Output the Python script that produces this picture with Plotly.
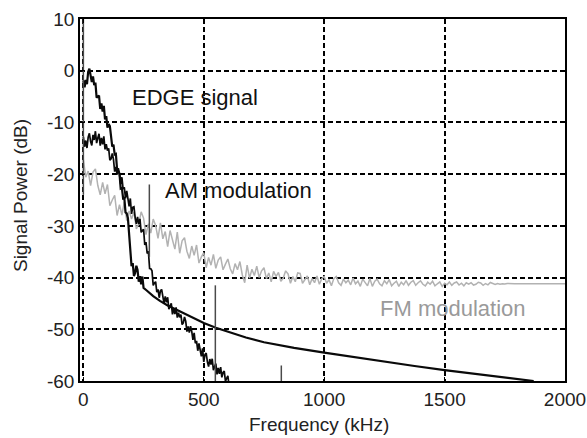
import plotly.graph_objects as go

# ---- FM modulation spectrum (10 kHz bins up to 1800 kHz, then flat floor) ----
fm_freq = list(range(0, 1810, 10)) + [1900, 2000]
fm_db = [
    -17.2, -20.6, -19.4, -22.2, -19.6, -19.0, -22.2, -24.0, -21.6, -23.8,
    -22.0, -26.1, -25.0, -24.1, -28.0, -25.9, -27.9, -25.4, -29.0, -27.1,
    -28.7, -27.3, -30.6, -29.6, -27.3, -28.5, -31.7, -29.6, -31.4, -28.7,
    -29.9, -32.4, -29.4, -32.5, -31.1, -34.0, -30.9, -32.6, -34.5, -31.2,
    -35.3, -32.9, -32.3, -34.9, -36.3, -33.9, -35.7, -33.7, -37.2, -36.0,
    -35.2, -38.1, -36.1, -37.6, -35.5, -38.2, -36.6, -36.0, -38.5, -37.4,
    -36.4, -38.3, -39.3, -37.3, -38.5, -36.9, -39.5, -41.0, -37.6, -40.1,
    -38.4, -39.6, -37.8, -40.0, -38.7, -38.1, -40.2, -39.1, -40.8, -38.8,
    -39.8, -39.0, -40.7, -40.1, -38.7, -39.3, -41.1, -39.8, -40.8, -39.1,
    -39.2, -41.1, -40.3, -39.7, -41.4, -40.2, -41.0, -39.7, -41.3, -40.2,
    -39.8, -41.1, -40.4, -41.6, -40.2, -39.8, -41.0, -41.5, -40.3, -41.0,
    -40.5, -41.4, -40.1, -41.2, -40.7, -41.7, -40.3, -40.9, -41.6, -40.2,
    -41.7, -40.7, -40.3, -41.2, -41.6, -40.6, -41.2, -40.4, -41.6, -41.1,
    -40.7, -41.7, -40.9, -41.4, -40.6, -41.5, -40.9, -40.6, -41.5, -41.0,
    -40.65, -41.3, -41.6, -40.9, -41.3, -40.7, -41.6, -41.2, -40.85, -41.7,
    -41.1, -41.4, -40.85, -41.5, -41.05, -40.85, -41.45, -41.1, -41.6, -41.0,
    -41.25, -41.0, -41.45, -41.3, -40.9, -41.05, -41.5, -41.15, -41.4, -40.95,
    -41.1, -41.35, -41.15, -41.3, -41.2, -41.25, -41.15, -41.2, -41.25, -41.2,
    -41.2,
    -41.2, -41.2,
]

# ---- EDGE signal: measured part (5 kHz bins) followed by the smooth roll-off ----
edge_noisy_freq = list(range(0, 255, 5))
edge_noisy_db = [
    -1.9, -3.2, -1.8, -2.6, -0.2, 0.4, -0.9, -2.2, -1.1, -2.8,
    -2.3, -5.2, -5.0, -4.8, -7.4, -6.3, -7.9, -6.8, -9.4, -8.8,
    -11.0, -10.3, -10.7, -13.0, -14.7, -14.3, -16.2, -16.1, -19.1, -19.4,
    -19.9, -22.8, -22.7, -24.7, -24.6, -27.4, -27.6, -28.5, -31.6, -34.3,
    -37.8, -37.2, -39.7, -39.1, -37.7, -38.55, -40.8, -39.75, -41.3, -39.8, -42.0,
]
edge_tail_freq = [263, 290, 318, 350, 400, 450, 500, 550, 600, 675, 750, 875,
                  1000, 1125, 1250, 1375, 1500, 1625, 1750, 1870]
edge_tail_db = [-42.5, -43.6, -44.5, -45.4, -46.5, -47.7, -48.8, -49.7, -50.5,
                -51.6, -52.5, -53.6, -54.5, -55.4, -56.3, -57.1, -57.9, -58.6,
                -59.3, -60.0]

# ---- AM modulation spectrum (5 kHz bins) ----
am_freq = list(range(0, 665, 5))
am_db = [
    -12.8, -14.7, -13.5, -14.95, -12.85, -12.1, -13.7, -14.45, -12.4, -13.4,
    -11.7, -14.0, -13.0, -12.2, -14.5, -13.0, -14.25, -12.7, -15.2, -14.2,
    -15.45, -15.0, -17.3, -17.05, -16.0, -17.15, -19.5, -18.6, -20.1, -18.85,
    -20.0, -21.95, -20.6, -22.9, -22.55, -24.7, -23.25, -24.7, -26.25, -24.7,
    -27.7, -26.4, -26.3, -28.35, -29.6, -28.25, -29.65, -28.65, -31.25, -30.9,
    -30.65, -33.7, -33.15, -35.35, -34.9, -38.25, -38.3, -38.7, -41.5, -41.05,
    -40.8, -42.8, -42.3, -43.9, -42.55, -42.3, -44.05, -45.0, -43.65, -44.8,
    -43.8, -46.1, -45.5, -45.0, -47.1, -45.9, -47.05, -45.75, -47.75, -46.8,
    -47.7, -47.15, -49.1, -48.75, -47.6, -48.45, -50.45, -49.45, -50.65, -49.4,
    -50.4, -52.05, -50.7, -52.7, -52.25, -54.15, -52.75, -53.9, -55.25, -53.7,
    -56.3, -54.9, -54.6, -56.3, -57.2, -55.75, -56.8, -55.7, -57.9, -57.2,
    -56.65, -58.7, -57.45, -58.6, -57.3, -59.3, -58.35, -58.1, -60.05, -59.5,
    -59.0, -60.9, -60.3, -61.85, -60.45, -60.15, -61.85, -62.75, -61.35, -62.45,
    -61.4, -63.65, -63.0,
]

# ---- discrete spectral lines (carrier and harmonics) ----
spur_freq = [0, 274, 548, 822]
spur_top_db = [12, -22, -41.5, -57]
spur_base_db = [-24, -36, -62, -62]

x_ticks = [0, 500, 1000, 1500, 2000]
y_ticks = [-60, -50, -40, -30, -20, -10, 0, 10]

FONT = "Liberation Sans, Arial, sans-serif"

fig = go.Figure()

fig.add_trace(go.Scatter(
    x=fm_freq, y=fm_db, mode="lines",
    line=dict(color="#b2b2b2", width=1.5), hoverinfo="skip"))

fig.add_trace(go.Scatter(
    x=edge_noisy_freq + edge_tail_freq, y=edge_noisy_db + edge_tail_db,
    mode="lines", line=dict(color="#0a0a0a", width=2.2), hoverinfo="skip"))

fig.add_trace(go.Scatter(
    x=am_freq, y=am_db, mode="lines",
    line=dict(color="#0a0a0a", width=1.7), hoverinfo="skip"))

spur_x, spur_y = [], []
for f, top, base in zip(spur_freq, spur_top_db, spur_base_db):
    spur_x += [f, f, None]
    spur_y += [base, top, None]
fig.add_trace(go.Scatter(
    x=spur_x, y=spur_y, mode="lines",
    line=dict(color="#4a4a4a", width=1.5), hoverinfo="skip"))

labels = [
    ("EDGE signal", 193, -5.2, "#111111"),
    ("AM modulation", 330, -23.2, "#111111"),
    ("FM modulation", 1223, -46.0, "#9a9a9a"),
]
for text, x, y, color in labels:
    fig.add_annotation(x=x, y=y, text=text, showarrow=False,
                       xanchor="left", yanchor="middle",
                       font=dict(family=FONT, size=22, color=color))

fig.add_annotation(x=0.493, y=-0.1215, xref="paper", yref="paper",
                   text="Frequency (kHz)", showarrow=False,
                   xanchor="center", yanchor="middle",
                   font=dict(family=FONT, size=19, color="#222222"))
fig.add_annotation(x=-0.1237, y=0.511, xref="paper", yref="paper",
                   text="Signal Power (dB)", showarrow=False, textangle=-90,
                   xanchor="center", yanchor="middle",
                   font=dict(family=FONT, size=19, color="#222222"))

axis_common = dict(
    showline=True, linecolor="#000000", linewidth=1.5, mirror="ticks",
    ticks="inside", ticklen=4, tickcolor="#000000", tickwidth=1,
    showgrid=True, gridcolor="#000000", gridwidth=1.6, griddash="5px,3px",
    zeroline=False, automargin=False,
    tickfont=dict(family=FONT, size=19, color="#222222"),
)

fig.update_xaxes(range=[-14, 2000], tickvals=x_ticks,
                 ticktext=[str(v) for v in x_ticks], **axis_common)
fig.update_yaxes(range=[-60, 10], tickvals=y_ticks,
                 ticktext=[str(v) for v in y_ticks], **axis_common)

fig.update_layout(
    width=587, height=438,
    margin=dict(l=80, r=22, t=19, b=57),
    plot_bgcolor="white", paper_bgcolor="white",
    showlegend=False,
)

fig.write_html("out.html")
